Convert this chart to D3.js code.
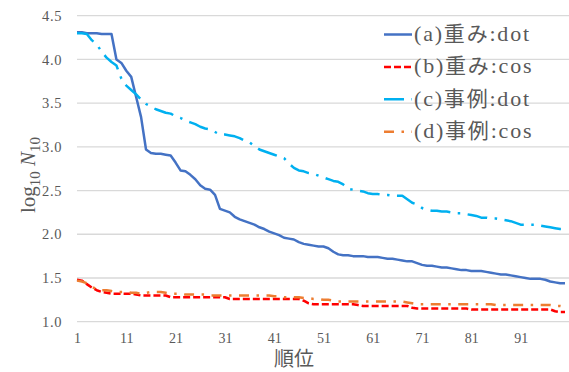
<!DOCTYPE html>
<html>
<head>
<meta charset="utf-8">
<script src="https://cdn.jsdelivr.net/npm/d3@7"></script>
<style>
    body { margin: 0; background: #fff; }
    svg { display: block; }
</style>
</head>
<body>
<div id="chart"></div>
<script>
let width = 569;
let height = 372;
let plot = {left: 77, right: 565, top: 15.7, bottom: 321.7};

// rank 1..100
let ranks = d3.range(1, 101);

let weightDot = [
    4.31, 4.31, 4.30, 4.30, 4.30, 4.29, 4.29, 4.29, 4.00, 3.96,
    3.87, 3.80, 3.57, 3.34, 2.97, 2.93, 2.92, 2.92, 2.91, 2.90,
    2.82, 2.73, 2.72, 2.68, 2.63, 2.56, 2.52, 2.51, 2.45, 2.29,
    2.27, 2.25, 2.20, 2.17, 2.15, 2.13, 2.11, 2.08, 2.06, 2.03,
    2.01, 1.99, 1.96, 1.95, 1.94, 1.91, 1.89, 1.88, 1.87, 1.86,
    1.86, 1.84, 1.80, 1.77, 1.76, 1.76, 1.75, 1.75, 1.75, 1.74,
    1.74, 1.74, 1.73, 1.72, 1.72, 1.71, 1.70, 1.69, 1.69, 1.67,
    1.65, 1.64, 1.64, 1.63, 1.62, 1.62, 1.61, 1.60, 1.59, 1.59,
    1.58, 1.58, 1.58, 1.57, 1.56, 1.55, 1.54, 1.54, 1.53, 1.52,
    1.51, 1.50, 1.49, 1.49, 1.49, 1.48, 1.46, 1.45, 1.44, 1.44
];

let weightCos = [
    1.48, 1.47, 1.43, 1.39, 1.36, 1.34, 1.33, 1.32, 1.32, 1.32,
    1.32, 1.32, 1.31, 1.30, 1.30, 1.30, 1.30, 1.30, 1.30, 1.28,
    1.28, 1.28, 1.28, 1.28, 1.28, 1.28, 1.28, 1.28, 1.28, 1.28,
    1.28, 1.26, 1.26, 1.26, 1.26, 1.26, 1.26, 1.26, 1.26, 1.26,
    1.26, 1.26, 1.26, 1.26, 1.26, 1.26, 1.24, 1.21, 1.20, 1.20,
    1.20, 1.20, 1.20, 1.20, 1.20, 1.20, 1.20, 1.19, 1.18, 1.18,
    1.18, 1.18, 1.18, 1.18, 1.18, 1.18, 1.18, 1.18, 1.16, 1.15,
    1.15, 1.15, 1.15, 1.15, 1.15, 1.15, 1.15, 1.15, 1.15, 1.15,
    1.14, 1.14, 1.14, 1.14, 1.14, 1.14, 1.14, 1.14, 1.14, 1.14,
    1.14, 1.14, 1.14, 1.14, 1.14, 1.14, 1.14, 1.12, 1.11, 1.11
];

let caseDot = [
    4.30, 4.30, 4.29, 4.22, 4.17, 4.09, 4.02, 3.97, 3.93, 3.78,
    3.70, 3.65, 3.60, 3.54, 3.49, 3.46, 3.43, 3.41, 3.39, 3.38,
    3.35, 3.33, 3.30, 3.28, 3.26, 3.23, 3.21, 3.20, 3.17, 3.14,
    3.14, 3.13, 3.12, 3.10, 3.07, 3.05, 3.01, 2.97, 2.95, 2.93,
    2.91, 2.89, 2.87, 2.81, 2.76, 2.73, 2.72, 2.70, 2.69, 2.67,
    2.65, 2.63, 2.61, 2.60, 2.57, 2.52, 2.51, 2.50, 2.49, 2.47,
    2.46, 2.46, 2.45, 2.45, 2.44, 2.44, 2.44, 2.40, 2.36, 2.34,
    2.30, 2.28, 2.27, 2.27, 2.26, 2.26, 2.25, 2.24, 2.24, 2.23,
    2.22, 2.21, 2.19, 2.19, 2.18, 2.18, 2.17, 2.16, 2.15, 2.13,
    2.11, 2.11, 2.11, 2.11, 2.10, 2.09, 2.08, 2.07, 2.06, 2.06
];

let caseCos = [
    1.47, 1.46, 1.44, 1.40, 1.37, 1.36, 1.36, 1.35, 1.34, 1.34,
    1.34, 1.33, 1.33, 1.32, 1.33, 1.34, 1.34, 1.34, 1.33, 1.32,
    1.32, 1.32, 1.31, 1.31, 1.31, 1.31, 1.31, 1.30, 1.30, 1.30,
    1.30, 1.30, 1.30, 1.30, 1.30, 1.30, 1.30, 1.30, 1.30, 1.30,
    1.29, 1.29, 1.28, 1.28, 1.28, 1.28, 1.27, 1.27, 1.26, 1.26,
    1.25, 1.25, 1.24, 1.23, 1.23, 1.23, 1.23, 1.23, 1.23, 1.23,
    1.23, 1.23, 1.23, 1.23, 1.23, 1.23, 1.23, 1.22, 1.21, 1.20,
    1.20, 1.20, 1.20, 1.20, 1.20, 1.20, 1.20, 1.20, 1.20, 1.20,
    1.20, 1.20, 1.20, 1.20, 1.20, 1.19, 1.19, 1.19, 1.19, 1.19,
    1.19, 1.19, 1.19, 1.19, 1.19, 1.19, 1.19, 1.18, 1.18, 1.17
];

let yTicks = [1.0, 1.5, 2.0, 2.5, 3.0, 3.5, 4.0, 4.5];
let xTicks = [1, 11, 21, 31, 41, 51, 61, 71, 81, 91];
let legendLabels = ["(a)重み:dot", "(b)重み:cos", "(c)事例:dot", "(d)事例:cos"];

let series = [
    {values: weightDot, color: "#4472C4", dash: null},
    {values: weightCos, color: "#FF0000", dash: "7,3"},
    {values: caseDot, color: "#00B0F0", dash: "20,7.5,2.5,7.5"},
    {values: caseCos, color: "#ED7D31", dash: "10,7.5,2.5,7.5"}
];

let serif = "'Liberation Serif', 'Times New Roman', serif";
let gothic = "'Noto Sans CJK JP', sans-serif";

let svg = d3.select("#chart")
    .append("svg")
    .attr("width", width)
    .attr("height", height);

let x = d3.scaleLinear()
    .domain([1, 100])
    .range([plot.left, plot.right]);
let y = d3.scaleLinear()
    .domain([1, 4.5])
    .range([plot.bottom, plot.top]);

// gridlines
svg.append("g")
    .selectAll("line")
    .data(yTicks)
    .enter()
    .append("line")
    .attr("x1", plot.left)
    .attr("x2", width)
    .attr("y1", d => y(d))
    .attr("y2", d => y(d))
    .attr("stroke", "#D9D9D9")
    .attr("stroke-width", 1.3);

let yAxis = d3.axisLeft(y)
    .tickValues(yTicks)
    .tickFormat(d3.format(".1f"))
    .tickSize(0)
    .tickPadding(15);

svg.append("g")
    .attr("transform", "translate(" + plot.left + ",0)")
    .call(yAxis)
    .call(g => g.select(".domain").remove())
    .selectAll("text")
    .style("font-family", serif)
    .style("font-size", "14.5px")
    .attr("letter-spacing", 0.6)
    .attr("fill", "#595959");

let xAxis = d3.axisBottom(x)
    .tickValues(xTicks)
    .tickFormat(d3.format("d"))
    .tickSize(0)
    .tickPadding(11);

svg.append("g")
    .attr("transform", "translate(0," + plot.bottom + ")")
    .call(xAxis)
    .call(g => g.select(".domain").remove())
    .selectAll("text")
    .style("font-family", serif)
    .style("font-size", "14px")
    .attr("fill", "#595959");

let line = d3.line()
    .x((d, i) => x(ranks[i]))
    .y(d => y(d));

svg.append("g")
    .selectAll("path")
    .data(series)
    .enter()
    .append("path")
    .attr("d", d => line(d.values))
    .attr("fill", "none")
    .attr("stroke", d => d.color)
    .attr("stroke-width", 2.5)
    .attr("stroke-linejoin", "round")
    .attr("stroke-dasharray", d => d.dash);

// legend
let legend = svg.append("g")
    .selectAll("g")
    .data(series)
    .enter()
    .append("g")
    .attr("transform", (d, i) => "translate(384," + (34.5 + i * 32.4) + ")");

legend.append("line")
    .attr("x1", 0)
    .attr("x2", 28)
    .attr("stroke", d => d.color)
    .attr("stroke-width", 2.5)
    .attr("stroke-dasharray", d => d.dash);

let legendText = legend.append("text")
    .attr("x", 30)
    .attr("y", 6.5)
    .attr("letter-spacing", 1.8)
    .attr("fill", "#595959");

// latin in serif, kana/kanji in gothic
legendText.each(function (d, i) {
    let parts = legendLabels[i].split(/([\u3040-\u30ff\u4e00-\u9fff]+)/).filter(p => p.length);
    d3.select(this).selectAll("tspan")
        .data(parts)
        .enter()
        .append("tspan")
        .style("font-family", p => /[\u3040-\u30ff\u4e00-\u9fff]/.test(p) ? gothic : serif)
        .style("font-size", p => /[\u3040-\u30ff\u4e00-\u9fff]/.test(p) ? "21px" : "22px")
        .text(p => p);
});

// axis titles
let yTitle = svg.append("text")
    .attr("transform", "translate(35,175) rotate(-90)")
    .attr("text-anchor", "middle")
    .style("font-family", serif)
    .style("font-size", "21px")
    .attr("fill", "#595959");
yTitle.append("tspan").text("log");
yTitle.append("tspan").style("font-size", "15px").attr("dy", 5).text("10");
yTitle.append("tspan").attr("dy", -5).text(" ");
yTitle.append("tspan").style("font-style", "italic").text("N");
yTitle.append("tspan").style("font-size", "15px").attr("dy", 5).text("10");

svg.append("text")
    .attr("x", 294)
    .attr("y", 366)
    .attr("text-anchor", "middle")
    .style("font-family", gothic)
    .style("font-size", "20px")
    .attr("fill", "#595959")
    .text("順位");
</script>
</body>
</html>
